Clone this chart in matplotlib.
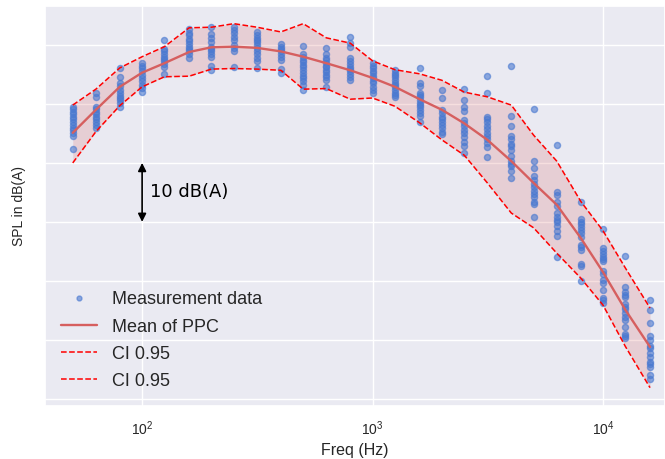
import numpy as np
import matplotlib
matplotlib.use("Agg")
import matplotlib.pyplot as plt
import seaborn as sns

sns.set_theme(style="darkgrid")
plt.rcParams['font.family'] = ['Liberation Sans', 'DejaVu Sans']

# 1/3 octave band centre frequencies
freqs = [50, 63, 80, 100, 125, 160, 200, 250, 315, 400, 500, 630, 800,
         1000, 1250, 1600, 2000, 2500, 3150, 4000, 5000, 6300, 8000,
         10000, 12500, 16000]

# measured levels per band, dB(A) (arbitrary offset, no y tick labels)
meas_db = [
    [79.5, 79.1, 78.7, 78.3, 77.8, 77.4, 77.0, 76.4, 75.9, 75.5, 75.0, 74.6, 72.3],
    [81.8, 81.1, 79.5, 79.1, 78.7, 78.3, 77.8, 77.4, 77.0, 76.4, 75.9],
    [86.1, 84.6, 83.5, 83.0, 82.4, 81.8, 81.4, 81.0, 80.6, 80.1, 79.5],
    [86.9, 86.4, 86.1, 85.5, 84.9, 84.4, 83.8, 83.2, 82.7, 82.1],
    [90.8, 89.3, 88.9, 88.4, 88.0, 87.6, 87.2, 86.7, 86.3, 85.0],
    [92.7, 92.0, 91.6, 91.0, 90.6, 90.1, 89.7, 89.3, 88.9, 88.4, 87.8],
    [93.1, 91.8, 91.1, 90.5, 89.7, 89.3, 88.9, 88.4, 88.0, 86.5, 85.8],
    [93.1, 92.5, 92.0, 91.4, 90.8, 90.0, 89.4, 88.9, 86.3],
    [92.2, 91.7, 91.2, 90.8, 90.5, 90.0, 89.5, 89.0, 88.4, 87.8, 87.3, 86.1],
    [90.1, 89.7, 89.3, 88.9, 88.4, 88.0, 87.5, 85.9, 85.2],
    [89.8, 88.4, 88.0, 87.5, 87.1, 86.6, 86.2, 85.8, 85.2, 84.8, 84.4, 83.9, 83.2, 82.4],
    [89.4, 88.4, 87.8, 87.5, 86.9, 86.5, 86.2, 85.8, 85.4, 84.9, 84.5, 84.1, 82.9],
    [91.4, 90.3, 89.7, 87.7, 87.3, 86.7, 86.3, 85.9, 85.5, 85.0, 84.5, 84.1],
    [86.9, 86.4, 86.1, 85.6, 85.2, 84.7, 84.4, 83.9, 83.5, 82.9, 82.4, 81.9],
    [85.8, 85.3, 84.9, 84.5, 84.1, 83.6, 83.2, 82.8, 82.4, 81.9, 81.5, 81.1],
    [86.1, 83.5, 83.0, 81.9, 81.5, 81.1, 80.7, 80.2, 79.8, 79.4, 79.0, 78.4, 78.0, 77.0],
    [82.4, 81.0, 79.0, 78.5, 77.8, 77.4, 77.0, 76.4, 75.9, 75.3, 74.9],
    [82.5, 80.6, 79.4, 78.8, 77.3, 76.7, 76.2, 75.6, 75.0, 74.4, 73.6, 72.8, 71.6],
    [84.7, 81.8, 77.8, 77.4, 77.0, 76.3, 75.7, 75.1, 74.6, 74.0, 73.4, 72.7, 71.0],
    [86.5, 78.0, 76.3, 74.5, 74.0, 73.2, 72.8, 72.2, 71.2, 70.4, 69.8, 69.4, 68.7, 67.4],
    [79.2, 70.4, 69.1, 67.8, 67.1, 66.4, 65.9, 65.3, 64.7, 64.2, 63.4, 63.0, 60.8],
    [73.0, 65.0, 64.6, 63.3, 62.7, 61.5, 60.9, 60.3, 59.9, 59.3, 58.4, 57.6, 54.1],
    [63.4, 60.5, 60.0, 59.7, 59.2, 58.6, 58.2, 57.4, 56.1, 55.7, 55.3, 52.9, 52.5, 50.0],
    [58.8, 55.5, 55.0, 54.6, 54.1, 53.7, 53.3, 51.6, 51.2, 50.2, 49.7, 48.5, 47.1, 46.7, 46.2],
    [54.3, 48.9, 48.2, 47.6, 47.2, 46.1, 45.6, 45.2, 44.5, 43.8, 43.3, 42.2, 41.0, 40.6, 40.3],
    [46.7, 45.0, 42.8, 40.6, 40.0, 39.0, 38.6, 37.7, 37.1, 36.3, 35.9, 35.4, 34.1, 33.3],
]

# posterior predictive mean and 95% interval
ppc_mean = [75.1, 79.0, 82.9, 85.3, 86.9, 88.8, 89.6, 89.7, 89.5, 88.9, 88.0,
            86.9, 85.7, 84.4, 82.9, 80.8, 79.0, 76.7, 73.9, 70.3, 66.6, 62.9,
            57.3, 51.5, 45.1, 38.8]
ci_upper = [79.8, 82.5, 86.1, 88.0, 89.7, 92.9, 93.0, 93.6, 93.0, 92.2, 93.6,
            91.2, 90.3, 87.3, 85.8, 85.1, 84.0, 82.0, 81.2, 79.8, 74.7, 70.3,
            63.5, 58.5, 52.2, 45.4]
ci_lower = [70.0, 75.3, 79.7, 82.9, 84.6, 84.7, 85.9, 86.0, 85.9, 85.7, 82.5,
            82.6, 80.8, 81.0, 79.6, 76.8, 73.9, 71.3, 66.6, 61.5, 59.0, 54.7,
            50.5, 45.9, 38.9, 31.9]

x_pts = np.concatenate([[f] * len(v) for f, v in zip(freqs, meas_db)])
y_pts = np.concatenate(meas_db)

fig = plt.figure(figsize=(6.65, 4.59), dpi=100)
ax = fig.add_axes([0.0677, 0.1155, 0.9323, 0.8715])

ax.plot(x_pts, y_pts, 'o', color='#4878d0', ms=4.4, alpha=0.6,
        mec='#4878d0', label='Measurement data')
ax.plot(freqs, ppc_mean, '-', color='#d65f5f', lw=1.7, label='Mean of PPC')
ax.plot(freqs, ci_lower, '--', color='red', lw=1.1, label='CI 0.95')
ax.plot(freqs, ci_upper, '--', color='red', lw=1.1, label='CI 0.95')
ax.fill_between(freqs, ci_lower, ci_upper, color='#d65f5f', alpha=0.2, lw=0)

# 10 dB scale arrow
ax.annotate('', xy=(100, 70), xytext=(100, 60),
            arrowprops=dict(arrowstyle='<|-|>', color='black', lw=1.2,
                            shrinkA=0, shrinkB=0, mutation_scale=12))
ax.text(108, 65, '10 dB(A)', ha='left', va='center', fontsize=13,
        family='DejaVu Sans', color='black')

ax.set_xscale('log')
ax.set_xlim(37.9, 18580)
ax.set_ylim(28.8, 96.6)
ax.set_yticks([30, 40, 50, 60, 70, 80, 90])
ax.set_yticklabels([])
ax.tick_params(axis='x', labelsize=10)
ax.set_xlabel('Freq (Hz)', fontsize=11.5)
ax.set_ylabel('SPL in dB(A)', fontsize=10)

ax.legend(loc='lower left', fontsize=13, frameon=False, numpoints=1,
          markerscale=0.8, borderaxespad=0.5, labelspacing=0.56)

fig.savefig('out.png', dpi=100)
